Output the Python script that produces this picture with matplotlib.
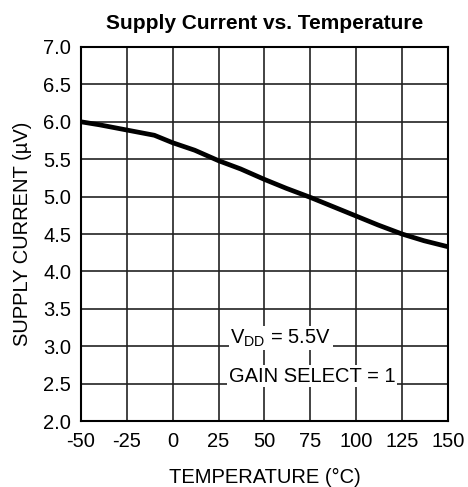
import matplotlib
matplotlib.use('Agg')
import matplotlib.pyplot as plt

plt.rcParams['font.family'] = ['Liberation Sans', 'DejaVu Sans']

# temperature (C) and supply current
temp = [-50, -40, -25, -10, 0, 12, 25, 37, 50, 62, 75, 87, 100, 112, 125, 137, 150]
current = [6.00, 5.96, 5.89, 5.82, 5.72, 5.62, 5.48, 5.37, 5.23, 5.11, 4.99,
           4.87, 4.74, 4.62, 4.50, 4.41, 4.33]

xticks = [-50, -25, 0, 25, 50, 75, 100, 125, 150]
yticks = [2.0, 2.5, 3.0, 3.5, 4.0, 4.5, 5.0, 5.5, 6.0, 6.5, 7.0]

fig = plt.figure(figsize=(4.68, 4.87), dpi=100)
ax = fig.add_axes([0.173, 0.1355, 0.784, 0.768])

ax.plot(temp, current, color='black', linewidth=3.4, solid_capstyle='butt')
ax.set_xlim(-50, 150)
ax.set_ylim(2.0, 7.0)
ax.set_xticks(xticks)
ax.set_xticklabels([str(t) for t in xticks])
ax.set_yticks(yticks)
ax.set_yticklabels(['%.1f' % v for v in yticks])
ax.tick_params(labelsize=14.5, length=0)
ax.tick_params(axis='x', pad=8)
ax.tick_params(axis='y', pad=7)
ax.grid(True, color='#222222', linewidth=1.2)
for s in ax.spines.values():
    s.set_linewidth(1.5)

ax.set_title('Supply Current vs. Temperature', fontsize=15, fontweight='bold', pad=13)
ax.set_xlabel('TEMPERATURE (°C)', fontsize=14.5, labelpad=12)
ax.set_ylabel('SUPPLY CURRENT (µV)', fontsize=14.5, labelpad=8)

box = dict(facecolor='white', edgecolor='none', pad=1)
ax.text(31.5, 3.11, r'V$_{\mathregular{DD}}$ = 5.5V', fontsize=14.5, ha='left', va='center', bbox=box)
ax.text(30.5, 2.60, 'GAIN SELECT = 1', fontsize=14.5, ha='left', va='center', bbox=box)

fig.savefig('out.png', dpi=100)
